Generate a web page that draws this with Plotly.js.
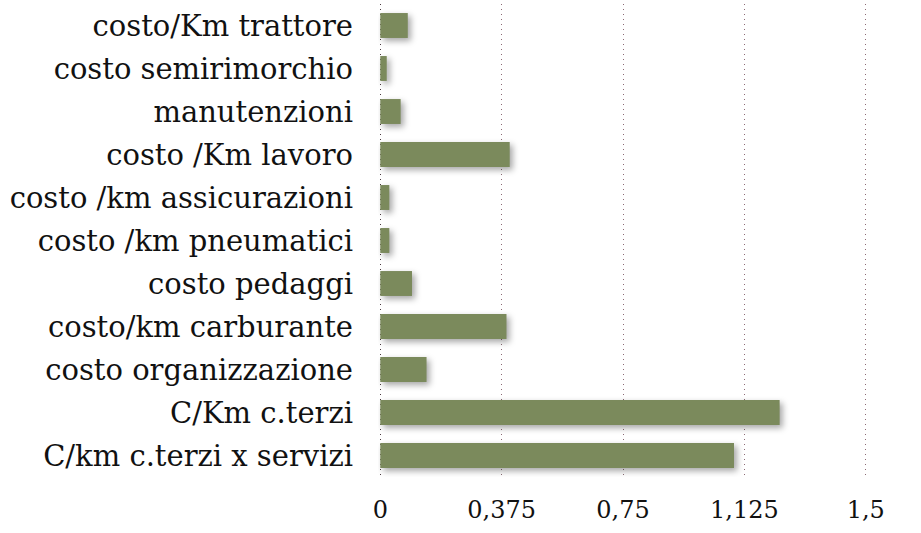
<!DOCTYPE html>
<html>
<head>
<meta charset="utf-8">
<script src="https://cdn.plot.ly/plotly-3.0.1.min.js"></script>
<style>
html,body{margin:0;padding:0;background:#fff;}
#chart{width:921px;height:533px;}
.bars path{filter:drop-shadow(3px 3px 3px rgba(0,0,0,0.35));}
.gridlayer .x path.xgrid:first-of-type{stroke:#4a3a40 !important;}
</style>
</head>
<body>
<div id="chart"></div>
<script>
const categories = [
  "costo/Km trattore",
  "costo semirimorchio",
  "manutenzioni",
  "costo /Km lavoro",
  "costo /km assicurazioni",
  "costo /km pneumatici",
  "costo pedaggi",
  "costo/km carburante",
  "costo organizzazione",
  "C/Km c.terzi",
  "C/km c.terzi x servizi"
];
const values = [0.085, 0.02, 0.063, 0.40, 0.028, 0.028, 0.098, 0.39, 0.143, 1.234, 1.093];
const tickValues = [0, 0.375, 0.75, 1.125, 1.5];
const tickLabels = ["0", "0,375", "0,75", "1,125", "1,5"];

const fontFamily = "'DejaVu Serif', 'Liberation Serif', serif";

Plotly.newPlot("chart", [{
  type: "bar",
  orientation: "h",
  y: categories,
  x: values,
  marker: {color: "#7b8a5c", line: {width: 0}},
  hoverinfo: "x+y"
}], {
  width: 921,
  height: 533,
  margin: {l: 378, r: 53, t: 4, b: 56},
  paper_bgcolor: "#ffffff",
  plot_bgcolor: "#ffffff",
  bargap: 0.42,
  showlegend: false,
  xaxis: {
    range: [-0.007, 1.507],
    tickvals: tickValues,
    ticktext: tickLabels,
    showgrid: true,
    gridcolor: "#8a6a74",
    griddash: "1px,4px",
    gridwidth: 1,
    zeroline: false,
    showline: false,
    ticks: "",
    ticklabelstandoff: 16,
    tickfont: {family: fontFamily, size: 24, color: "#111"}
  },
  yaxis: {
    autorange: "reversed",
    showgrid: false,
    zeroline: false,
    showline: false,
    ticks: "",
    ticklabelstandoff: 24,
    tickfont: {family: fontFamily, size: 29, color: "#111"}
  }
}, {displayModeBar: false, staticPlot: true});
</script>
</body>
</html>
